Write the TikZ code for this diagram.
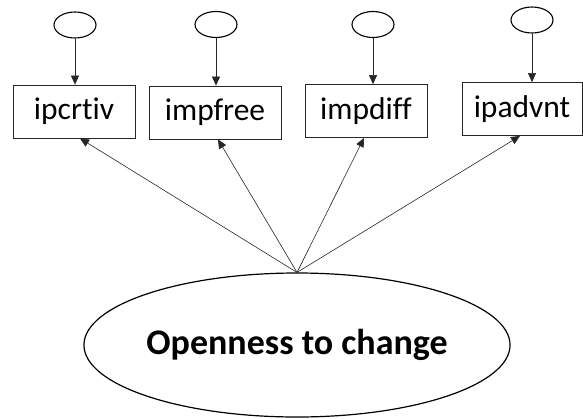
\documentclass[tikz,border=0pt]{standalone}
\usepackage{fontspec}
\setmainfont{Carlito}[RawFeature={-liga}]
\usetikzlibrary{shapes.geometric,arrows.meta,calc}
\begin{document}
\begin{tikzpicture}[x=1pt,y=-1pt,
  err/.style={draw=black,line width=1.1pt,ellipse,minimum width=42pt,minimum height=26pt,inner sep=0pt},
  obs/.style={draw=black!85,line width=0.8pt,rectangle,minimum height=53pt,inner sep=0pt,font=\fontsize{31.5}{34}\selectfont},
  lat/.style={draw=black,line width=1.2pt,ellipse,minimum width=364pt,minimum height=144pt,inner sep=0pt,font=\bfseries\fontsize{36}{40}\selectfont},
  arr/.style={draw=black!85,line width=0.6pt,-{Triangle[length=9pt,width=8pt]}}]
\useasboundingbox (0,0) rectangle (583,418);
\node[err] (e1) at (75,25) {};
\node[err] (e2) at (216,24.5) {};
\node[err] (e3) at (373,24.5) {};
\node[err] (e4) at (532,20) {};
\node[obs,minimum width=122pt] (b1) at (74,111.5) {ipcrtiv};
\node[obs,minimum width=132pt] (b2) at (215,112.5) {impfree};
\node[obs,minimum width=122pt] (b3) at (366,111) {impdiff};
\node[obs,minimum width=120pt] (b4) at (522,109) {ipadvnt};
\node[lat] (L) at (297,345) {Openness to change};
\draw[arr] (e1.south) -- (e1.south |- b1.north);
\draw[arr] (e2.south) -- (e2.south |- b2.north);
\draw[arr] (e3.south) -- (e3.south |- b3.north);
\draw[arr] (e4.south) -- (e4.south |- b4.north);
\draw[arr] (L.north) -- ($(b1.south)+(6,0)$);
\draw[arr] (L.north) -- ($(b2.south)+(3,0)$);
\draw[arr] (L.north) -- ($(b3.south)+(-2,0)$);
\draw[arr] (L.north) -- ($(b4.south)+(-2,0)$);
\end{tikzpicture}
\end{document}
